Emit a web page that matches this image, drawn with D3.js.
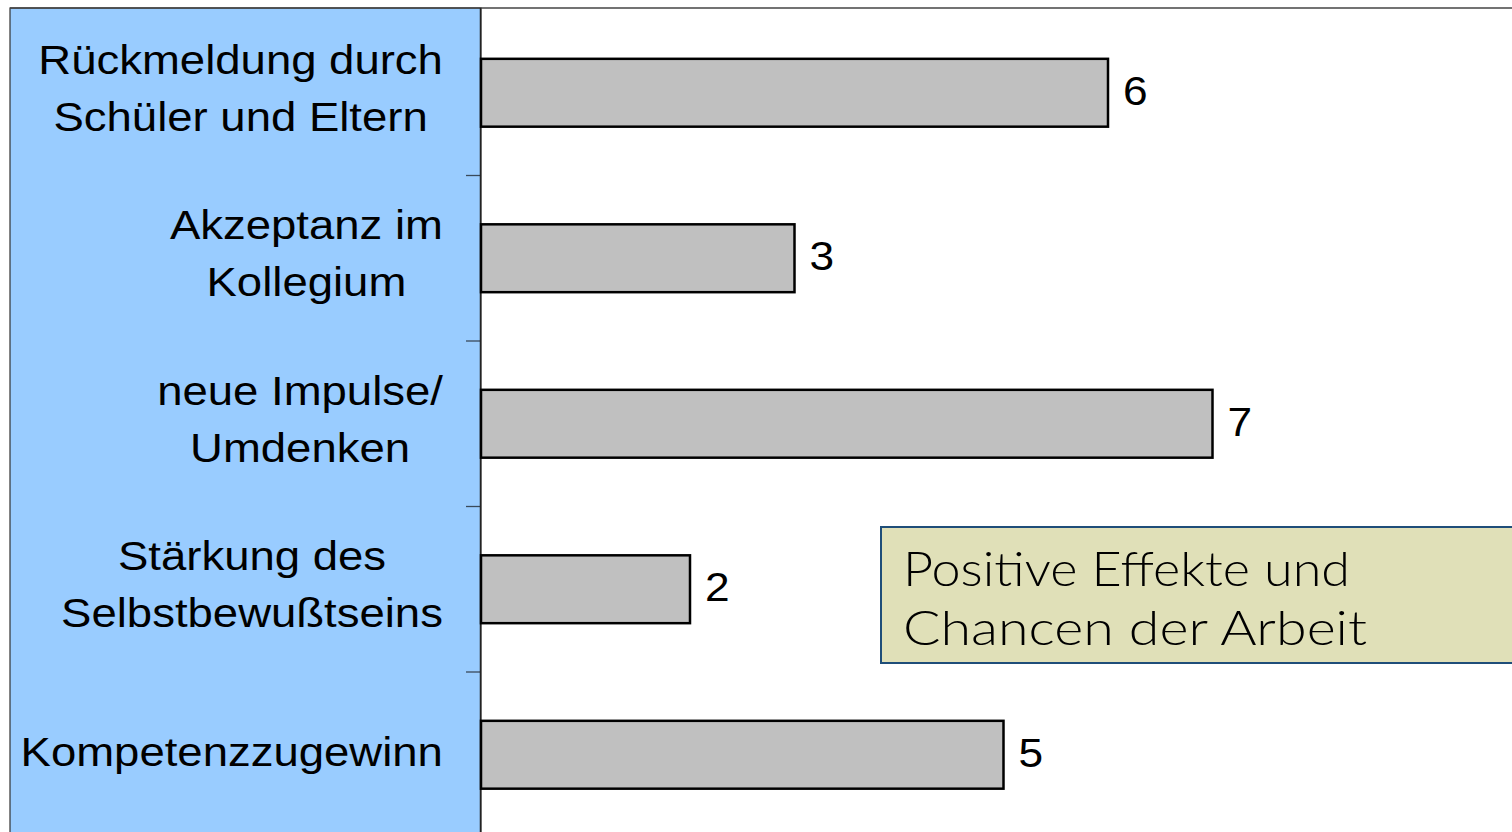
<!DOCTYPE html>
<html><head><meta charset="utf-8">
<script src="https://cdn.jsdelivr.net/npm/d3@7"></script>
<style>html,body{margin:0;padding:0;background:#fff;overflow:hidden}</style>
</head><body>
<svg id="c" width="1512" height="832"></svg>
<script>
const categories = [
  ["Rückmeldung durch","Schüler und Eltern"],
  ["Akzeptanz im","Kollegium"],
  ["neue Impulse/","Umdenken"],
  ["Stärkung des","Selbstbewußtseins"],
  ["Kompetenzzugewinn"]
];
const values = [6, 3, 7, 2, 5];
const titleLines = ["Positive Effekte und", "Chancen der Arbeit"];

(function(){
const svg = d3.select("#c");
const W = 1512, H = 832;
const plotLeft = 481, plotTop = 10, plotBottom = 837.5;
const ids = categories.map((c,i)=>i);

const y = d3.scaleBand().domain(ids).range([plotTop, plotBottom]).paddingInner(0.59).paddingOuter(0.295);
const x = d3.scaleLinear().domain([0, 10]).range([plotLeft, plotLeft + 1045]);

// blue label panel
svg.append("rect").attr("x", 10).attr("y", 8).attr("width", plotLeft - 10).attr("height", H)
  .attr("fill", "#99CCFF").attr("stroke", "#333").attr("stroke-width", 1.2);
// top border line
svg.append("line").attr("x1", 10).attr("x2", W).attr("y1", 8).attr("y2", 8)
  .attr("stroke", "#444").attr("stroke-width", 1.5);

// ticks at band boundaries
const boundaries = ids.slice(1).map(i => y(i) - y.step()*y.paddingInner()/2);
svg.selectAll("line.tick").data(boundaries).enter().append("line")
  .attr("x1", plotLeft - 15).attr("x2", plotLeft).attr("y1", d=>d).attr("y2", d=>d)
  .attr("stroke", "#3a4a5a").attr("stroke-width", 1.3);

// axis line
svg.append("line").attr("x1", plotLeft - 0.5).attr("x2", plotLeft - 0.5).attr("y1", 8).attr("y2", H)
  .attr("stroke", "#222").attr("stroke-width", 1.5);

// bars
svg.selectAll("rect.bar").data(values).enter().append("rect")
  .attr("x", x(0)).attr("y", (d,i)=>y(i)).attr("width", d=>x(d)-x(0)).attr("height", y.bandwidth())
  .attr("fill", "#C0C0C0").attr("stroke", "#000").attr("stroke-width", 2.5);

// value labels
svg.selectAll("text.val").data(values).enter().append("text")
  .attr("x", d=>x(d)+15).attr("y", (d,i)=>y(i)+y.bandwidth()/2+12)
  .attr("font-family", "Liberation Sans, Arial, sans-serif").attr("font-size", 41)
  .attr("transform", (d,i)=>`translate(${x(d)+15},0) scale(1.08,1) translate(${-(x(d)+15)},0)`)
  .text(d=>d);

// category labels
const lineH = 57, sx = 1.11, rightEdge = 443;
categories.forEach((lines, i) => {
  const cy = y(i) + y.bandwidth()/2;
  const g = svg.append("g");
  const n = lines.length;
  const off = n > 1 ? 9.5 : 11.5;
  const texts = lines.map((t, k) => g.append("text")
    .attr("font-family", "Liberation Sans, Arial, sans-serif").attr("font-size", 41)
    .attr("text-anchor", "middle").attr("fill", "#000")
    .attr("y", cy + (k - (n-1)/2) * lineH + off).text(t));
  const maxW = d3.max(texts, t => t.node().getComputedTextLength()) * sx;
  const center = rightEdge - maxW/2;
  g.attr("transform", `translate(${center},0) scale(${sx},1)`);
});

// annotation box
svg.append("rect").attr("x", 881).attr("y", 527).attr("width", 700).attr("height", 136)
  .attr("fill", "#E0E0B8").attr("stroke", "#1F4E79").attr("stroke-width", 2);
const tl = [447, 464];
titleLines.forEach((t, k) => {
  svg.append("text").attr("x", 903).attr("y", 586 + k*59)
    .attr("font-family", "Lato, 'Open Sans', sans-serif").attr("font-size", 47).attr("font-weight", 300)
    .attr("textLength", tl[k]).attr("lengthAdjust", "spacingAndGlyphs")
    .attr("fill", "#000").text(t);
});
})();
</script>
</body></html>
